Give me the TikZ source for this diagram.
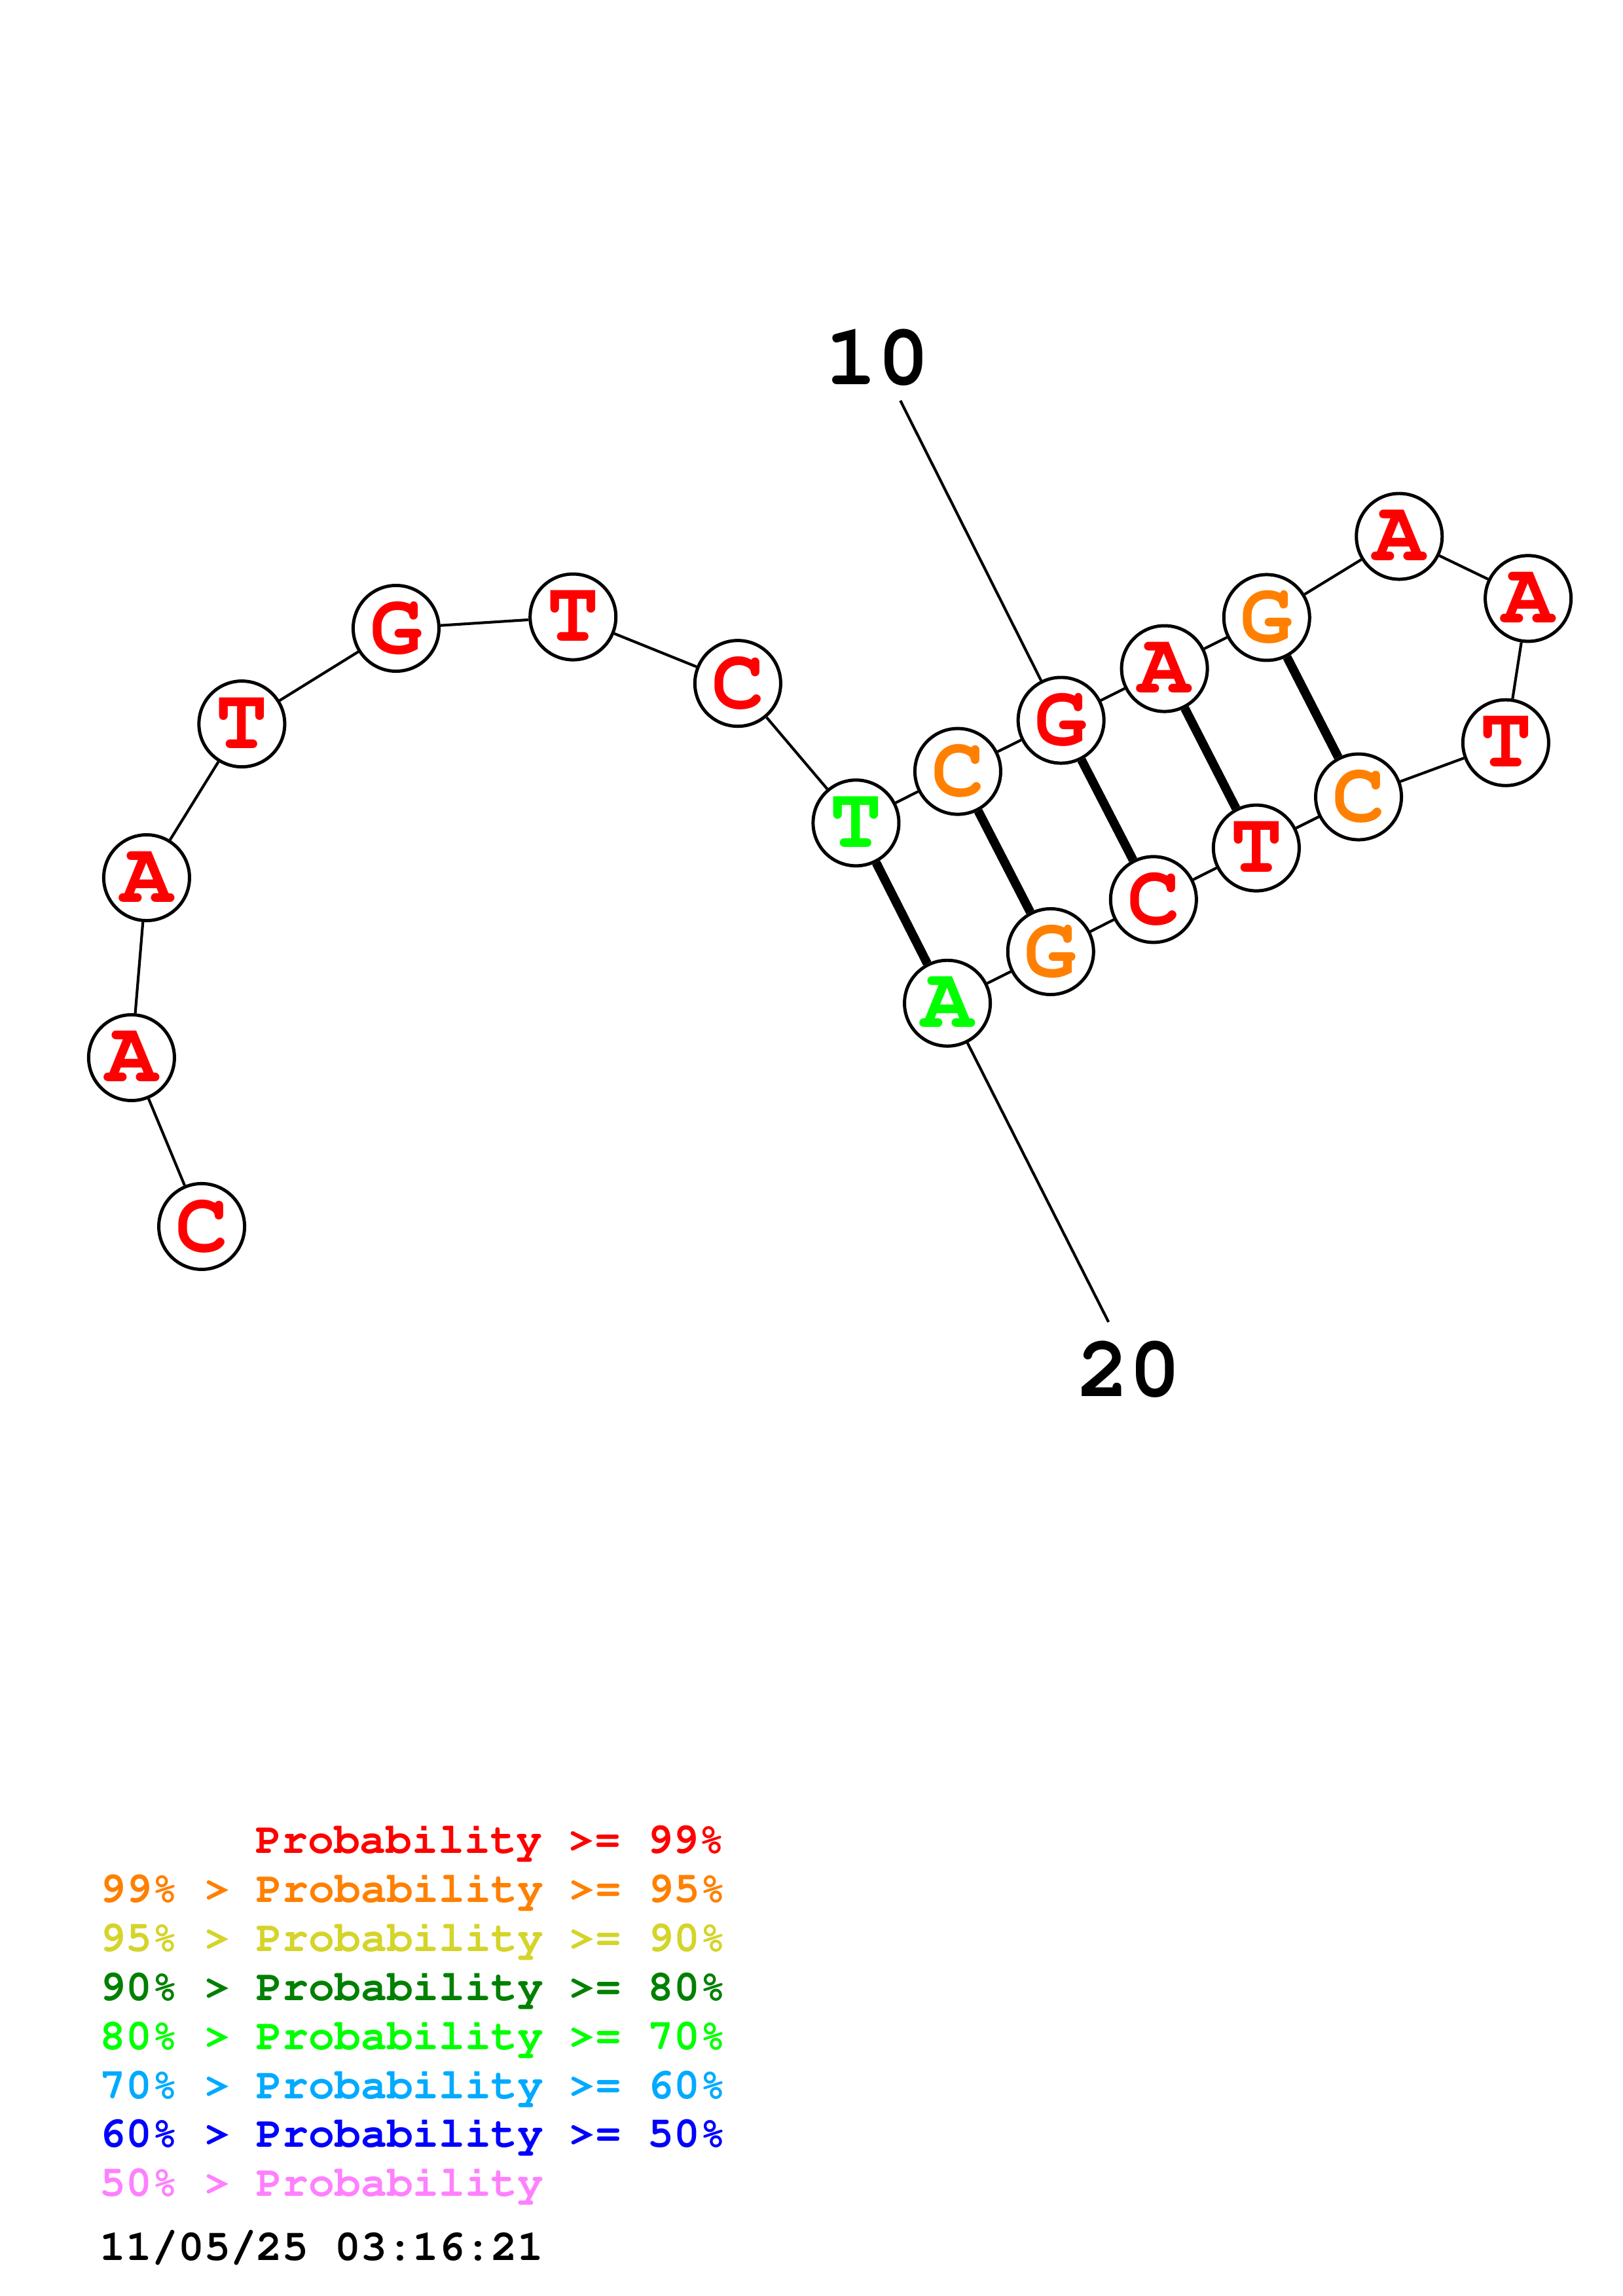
\documentclass[tikz,border=0pt]{standalone}
\usepackage[T1]{fontenc}
\newcommand{\courb}{\fontfamily{pcr}\fontseries{b}\selectfont}
\definecolor{pred}{RGB}{255,0,0}
\definecolor{porange}{RGB}{255,128,0}
\definecolor{pyellow}{RGB}{212,212,42}
\definecolor{pdkgreen}{RGB}{0,128,0}
\definecolor{pgreen}{RGB}{0,255,0}
\definecolor{psky}{RGB}{0,170,255}
\definecolor{pblue}{RGB}{0,0,255}
\definecolor{ppink}{RGB}{255,128,255}
\tikzset{
  base/.style={circle, draw=black, line width=1.2pt, fill=white, minimum size=11.1mm,
    inner sep=0pt, font=\courb\fontsize{32}{32}\selectfont},
  backbone/.style={line width=1pt},
  pairbond/.style={line width=3.3pt},
  numlabel/.style={anchor=base west, inner sep=0pt, font=\courb\fontsize{32}{32}\selectfont},
  legend/.style={anchor=base west, inner sep=0pt, font=\courb\fontsize{16}{16}\selectfont}
}
\begin{document}
\begin{tikzpicture}[x=0.1895mm, y=-0.1895mm]
\useasboundingbox (0,0) rectangle (1108,1568);
% Bases
\node[base, text=pred] (n1) at (137.7,837.6) {C};
\node[base, text=pred] (n2) at (89.8,722.3) {A};
\node[base, text=pred] (n3) at (100.1,599.4) {A};
\node[base, text=pred] (n4) at (165.1,494.4) {T};
\node[base, text=pred] (n5) at (270.4,429.1) {G};
\node[base, text=pred] (n6) at (391.2,421.3) {T};
\node[base, text=pred] (n7) at (503.7,466.7) {C};
\node[base, text=pgreen] (n8) at (584.4,562.0) {T};
\node[base, text=porange] (n9) at (653.9,526.8) {C};
\node[base, text=pred] (n10) at (724.4,491.9) {G};
\node[base, text=pred] (n11) at (795.0,456.6) {A};
\node[base, text=porange] (n12) at (864.8,421.7) {G};
\node[base, text=pred] (n13) at (955.3,366.3) {A};
\node[base, text=pred] (n14) at (1043.3,408.7) {A};
\node[base, text=pred] (n15) at (1028.0,507.2) {T};
\node[base, text=porange] (n16) at (927.5,544.2) {C};
\node[base, text=pred] (n17) at (857.7,579.1) {T};
\node[base, text=pred] (n18) at (787.5,614.3) {C};
\node[base, text=porange] (n19) at (717.3,649.9) {G};
\node[base, text=pgreen] (n20) at (646.8,685.1) {A};

% Backbone
\draw[backbone] (n1) -- (n2) -- (n3) -- (n4) -- (n5) -- (n6) -- (n7) -- (n8) -- (n9) -- (n10);
\draw[backbone] (n10) -- (n11) -- (n12) -- (n13) -- (n14) -- (n15) -- (n16) -- (n17) -- (n18) -- (n19) -- (n20);

% Pairs
\draw[pairbond] (n8) -- (n20);
\draw[pairbond] (n9) -- (n19);
\draw[pairbond] (n10) -- (n18);
\draw[pairbond] (n11) -- (n17);
\draw[pairbond] (n12) -- (n16);

% Numbering
\node[numlabel] (lab10) at (563,262.8) {10};
\node[numlabel] (lab20) at (735,953.4) {20};
\coordinate (tick10) at (614.7,273.6);
\coordinate (tick20) at (756.8,902.8);
\draw[backbone] (tick10) -- (n10);
\draw[backbone] (n20) -- (tick20);

% Legend
\node[legend, text=pred] (leg1) at (174.2,1265.8) {Probability >= 99\%};
\node[legend, text=porange] (leg2) at (68,1299.3) {99\% > Probability >= 95\%};
\node[legend, text=pyellow] (leg3) at (68,1332.7) {95\% > Probability >= 90\%};
\node[legend, text=pdkgreen] (leg4) at (68,1366.2) {90\% > Probability >= 80\%};
\node[legend, text=pgreen] (leg5) at (68,1399.6) {80\% > Probability >= 70\%};
\node[legend, text=psky] (leg6) at (68,1433.1) {70\% > Probability >= 60\%};
\node[legend, text=pblue] (leg7) at (68,1466.5) {60\% > Probability >= 50\%};
\node[legend, text=ppink] (leg8) at (68,1499.9) {50\% > Probability};
\node[legend, text=black] (stamp) at (68,1543.4) {11/05/25 03:16:21};
\end{tikzpicture}
\end{document}
